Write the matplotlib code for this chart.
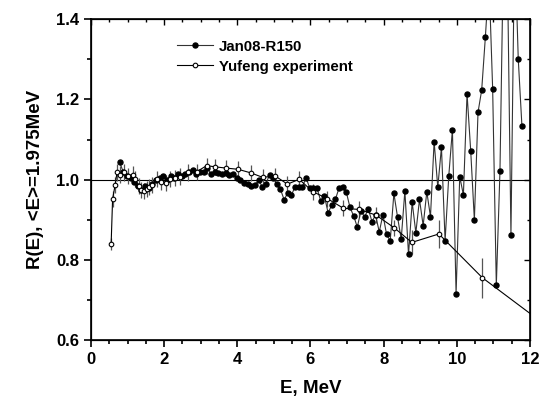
import numpy as np
import matplotlib.pyplot as plt
from matplotlib.ticker import MultipleLocator

plt.rcParams['font.family'] = ['Liberation Sans', 'DejaVu Sans']
plt.rcParams['font.weight'] = 'bold'

# Jan08-R150 (filled circles), 0.1 MeV grid
jan_E = np.round(np.arange(0.78, 11.79, 0.1), 2)
jan_R = [1.044, 1.02, 1.01, 1.005, 0.995, 0.985, 0.975, 0.985, 0.98, 0.99,
         1.0, 1.005, 1.01, 1.0, 1.01, 1.005, 1.015, 1.01, 1.015, 1.02,
         1.025, 1.015, 1.02, 1.02, 1.03, 1.014, 1.02, 1.017, 1.015, 1.016,
         1.012, 1.014, 1.005, 0.999, 0.991, 0.99, 0.984, 0.986, 0.999, 0.983,
         0.99, 1.012, 1.005, 0.99, 0.976, 0.950, 0.968, 0.962, 0.983, 0.983,
         0.983, 1.005, 0.979, 0.979, 0.979, 0.947, 0.96, 0.918, 0.936, 0.951,
         0.979, 0.981, 0.969, 0.931, 0.910, 0.882, 0.923, 0.907, 0.928, 0.896,
         0.912, 0.870, 0.913, 0.864, 0.848, 0.966, 0.907, 0.852, 0.972, 0.814,
         0.944, 0.868, 0.951, 0.886, 0.970, 0.908, 1.095, 0.981, 1.081, 0.848,
         1.009, 1.125, 0.716, 1.008, 0.962, 1.214, 1.072, 0.900, 1.168, 1.223,
         1.354, 1.5, 1.226, 0.737, 1.022, 1.6, 1.55, 0.862, 1.6, 1.300,
         1.134]

# Yufeng experiment (open circles)
yu_E = [0.55, 0.59, 0.66, 0.71, 0.79, 0.89, 1.02, 1.14, 1.21, 1.30,
        1.37, 1.45, 1.52, 1.59, 1.67, 1.80, 1.91, 2.04, 2.15, 2.30,
        2.44, 2.66, 2.89, 3.16, 3.40, 3.69, 4.02, 4.37, 4.69, 5.04,
        5.37, 5.69, 6.07, 6.46, 6.90, 7.33, 7.79, 8.28, 8.77, 9.51,
        10.70, 12.4]
yu_R = [0.839, 0.952, 0.987, 1.018, 1.013, 1.018, 1.010, 1.013, 1.001, 0.985,
        0.974, 0.972, 0.976, 0.983, 0.987, 1.001, 0.995, 0.993, 1.001, 1.005,
        1.008, 1.018, 1.020, 1.035, 1.032, 1.029, 1.026, 1.017, 1.006, 1.009,
        0.989, 1.001, 0.970, 0.953, 0.929, 0.926, 0.912, 0.881, 0.844, 0.865,
        0.756, 0.640]
yu_err = [0.015, 0.02, 0.02, 0.02, 0.02, 0.02, 0.02, 0.02, 0.02, 0.02,
          0.02, 0.02, 0.02, 0.02, 0.02, 0.02, 0.02, 0.02, 0.02, 0.02,
          0.02, 0.02, 0.02, 0.02, 0.02, 0.02, 0.02, 0.02, 0.02, 0.02,
          0.02, 0.02, 0.02, 0.02, 0.02, 0.02, 0.02, 0.02, 0.03, 0.035,
          0.05, 0.0]

fig = plt.figure(figsize=(5.43, 4.01), dpi=100)
ax = fig.add_axes([0.1676, 0.151, 0.8084, 0.8016])

ax.axhline(1.0, color='black', lw=0.8, zorder=1)

ax.errorbar(yu_E, yu_R, yerr=yu_err, fmt='none', ecolor='#555555',
            elinewidth=0.9, capsize=0, zorder=2)
ax.plot(jan_E, jan_R, '-o', color='#333333', lw=0.8, ms=3.6,
        mfc='black', mec='black', label='Jan08-R150', zorder=3)
ax.plot(yu_E, yu_R, '-o', color='black', lw=0.8, ms=3.3,
        mfc='white', mec='black', mew=0.8, label='Yufeng experiment', zorder=4)

ax.set_xlim(0, 12)
ax.set_ylim(0.6, 1.4)
ax.xaxis.set_major_locator(MultipleLocator(2))
ax.xaxis.set_minor_locator(MultipleLocator(0.5))
ax.yaxis.set_major_locator(MultipleLocator(0.2))
ax.yaxis.set_minor_locator(MultipleLocator(0.1))
ax.yaxis.set_major_formatter('{x:.1f}')
ax.tick_params(which='both', direction='out', top=False, right=False,
               labelsize=12, width=1.2)
ax.tick_params(which='major', length=5)
ax.tick_params(which='minor', length=3)
for s in ax.spines.values():
    s.set_linewidth(1.2)

# inward ticks on top and right
axt = ax.twiny()
axt.set_xlim(0, 12)
axt.xaxis.set_major_locator(MultipleLocator(2))
axt.xaxis.set_minor_locator(MultipleLocator(0.5))
axt.tick_params(which='both', direction='in', labeltop=False, width=1.0)
axt.tick_params(which='major', length=4)
axt.tick_params(which='minor', length=2.5)
axr = ax.twinx()
axr.set_ylim(0.6, 1.4)
axr.yaxis.set_major_locator(MultipleLocator(0.2))
axr.yaxis.set_minor_locator(MultipleLocator(0.1))
axr.tick_params(which='both', direction='in', labelright=False, width=1.0)
axr.tick_params(which='major', length=4)
axr.tick_params(which='minor', length=2.5)

ax.set_xlabel('E, MeV', fontsize=13.5, fontweight='bold', labelpad=9)
ax.set_ylabel('R(E), <E>=1.975MeV', fontsize=13.5, fontweight='bold', labelpad=9)

ax.legend(loc='upper left', bbox_to_anchor=(0.165, 0.978), frameon=False,
          handlelength=2.4, handletextpad=0.4, labelspacing=0.4,
          prop={'weight': 'bold', 'size': 10.8})

fig.savefig('out.png', dpi=100)
